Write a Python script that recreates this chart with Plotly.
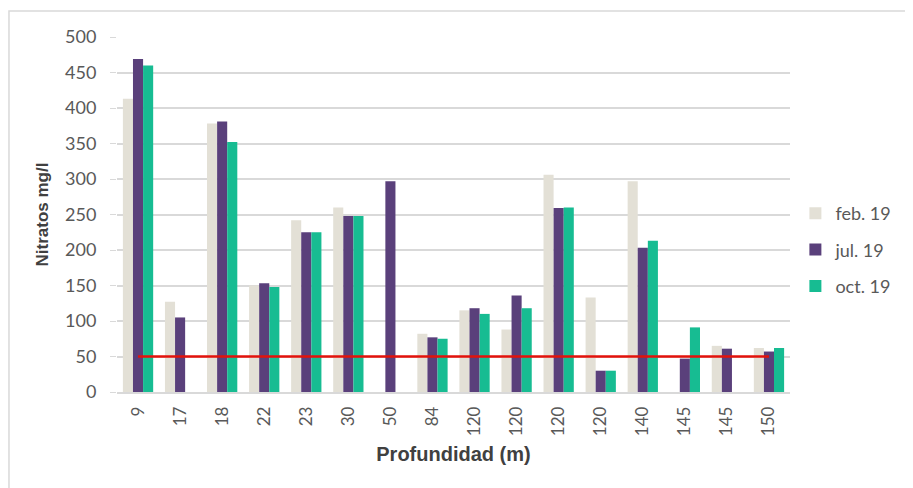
"""
Nitratos por profundidad de pozo: barras agrupadas por campaña
y línea roja del límite de 50 mg/l.
"""

import plotly.graph_objects as go

PROFUNDIDADES = ["9", "17", "18", "22", "23", "30", "50", "84",
                 "120", "120", "120", "120", "140", "145", "145", "150"]
FEB_19 = [413, 127, 378, 150, 242, 260, 0, 82, 115, 88, 306, 133, 297, 0, 65, 62]
JUL_19 = [469, 105, 381, 153, 225, 248, 297, 77, 118, 136, 259, 30, 203, 47, 61, 57]
OCT_19 = [460, 0, 352, 148, 225, 248, 0, 75, 110, 118, 260, 30, 213, 91, 0, 62]
LIMITE = [50] * len(PROFUNDIDADES)

TEXTO = "#595959"
TITULO = "#404040"
REJILLA = "#d9d9d9"

# posiciones únicas porque las etiquetas se repiten (120, 145)
pos = list(range(len(PROFUNDIDADES)))

fig = go.Figure()
for nombre, valores, color in [
    ("feb. 19", FEB_19, "#e3e0d6"),
    ("jul. 19", JUL_19, "#5a407b"),
    ("oct. 19", OCT_19, "#17bc92"),
]:
    fig.add_trace(go.Bar(
        x=pos, y=valores, name=nombre, legendgroup=nombre,
        marker={"color": color, "line": {"width": 0}},
    ))

fig.add_trace(go.Scatter(
    x=pos, y=LIMITE, mode="lines", showlegend=False,
    line={"color": "#e3120b", "width": 2.4},
    hoverinfo="skip",
))

# la página tiene 8 px de margen en el body: se descuentan aquí
fig.update_layout(
    width=913, height=488,
    paper_bgcolor="white", plot_bgcolor="white",
    margin=dict(l=109, r=131, t=29, b=104),
    font={"family": "Lato, 'Open Sans', sans-serif", "color": TEXTO, "size": 17},
    barmode="group", bargap=0.28, bargroupgap=0.0,
    showlegend=True,
    legend={
        "x": 1.008, "y": 0.40, "xanchor": "left", "yanchor": "middle",
        "font": {"size": 18, "color": TEXTO},
        "itemsizing": "constant", "tracegroupgap": 10,
        "bgcolor": "rgba(0,0,0,0)",
    },
    shapes=[dict(
        type="rect", xref="paper", yref="paper",
        x0=-0.1605, x1=1.25, y0=-0.35, y1=1.073,
        line={"color": "#d9d9d9", "width": 1.5}, layer="below",
    )],
)

fig.update_xaxes(
    tickmode="array", tickvals=pos, ticktext=PROFUNDIDADES,
    tickangle=-90, range=[-0.5, len(pos) - 0.5],
    showgrid=False, showline=True, linecolor=REJILLA, linewidth=1.5,
    ticks="", ticklabelstandoff=6, tickfont={"size": 17, "color": TEXTO},
    title={"text": "Profundidad (m)", "standoff": 12,
           "font": {"family": "'Liberation Sans', Arial, sans-serif",
                    "size": 20, "color": TITULO, "weight": "bold"}},
)
fig.update_yaxes(
    range=[0, 500], dtick=50, showgrid=True, gridcolor=REJILLA, gridwidth=1.5,
    zeroline=False, ticks="outside", ticklen=6, tickcolor=REJILLA,
    ticklabelstandoff=10, tickfont={"size": 18, "color": TEXTO},
    title={"text": "Nitratos mg/l", "standoff": 12,
           "font": {"family": "'Liberation Sans', Arial, sans-serif",
                    "size": 17, "color": TITULO, "weight": "bold"}},
)

fig.write_html("out.html")
